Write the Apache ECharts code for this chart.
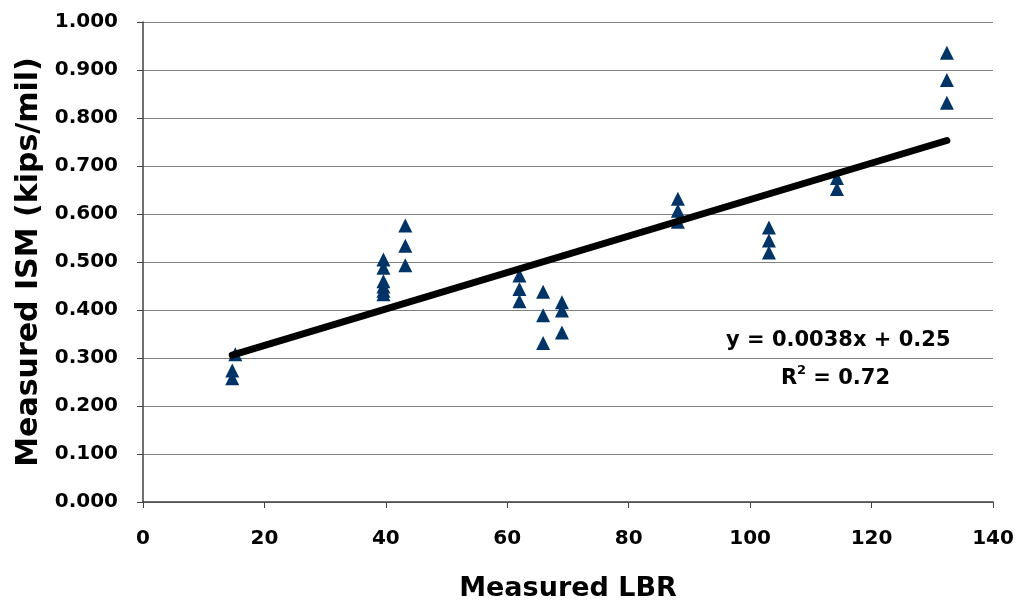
<!DOCTYPE html>
<html>
<head>
<meta charset="utf-8">
<script src="https://cdn.jsdelivr.net/npm/echarts@6/dist/echarts.min.js"></script>
<style>html,body{margin:0;padding:0;background:#fff}#c{width:1021px;height:607px}</style>
</head>
<body>
<div id="c"></div>
<script>
// Measured LBR (x) and Measured ISM (kips/mil) (y)
var lbr = [14.7, 14.7, 15.2,
           39.6, 39.6, 39.6, 39.6, 39.6, 39.6,
           43.2, 43.2, 43.2,
           62.0, 62.0, 62.0,
           65.9, 65.9, 65.9,
           69.0, 69.0, 69.0,
           88.1, 88.1, 88.1,
           103.1, 103.1, 103.1,
           114.3, 114.3,
           132.4, 132.4, 132.4];
var ism = [0.258, 0.274, 0.308,
           0.505, 0.488, 0.460, 0.449, 0.440, 0.433,
           0.576, 0.534, 0.493,
           0.472, 0.444, 0.418,
           0.438, 0.389, 0.331,
           0.416, 0.399, 0.353,
           0.632, 0.607, 0.584,
           0.572, 0.545, 0.520,
           0.675, 0.652,
           0.936, 0.879, 0.832];
var trendSlope = 0.0038;
var trendIntercept = 0.25;
var eqLabel = 'y = 0.0038x + 0.25';
var r2Label = '0.72';
var xTicks = [0, 20, 40, 60, 80, 100, 120, 140];
var yTicks = [0, 0.1, 0.2, 0.3, 0.4, 0.5, 0.6, 0.7, 0.8, 0.9, 1.0];

var pts = lbr.map(function (x, i) { return [x, ism[i]]; });
var xMin = Math.min.apply(null, lbr), xMax = Math.max.apply(null, lbr);
var trend = [[xMin, trendIntercept + trendSlope * xMin], [xMax, trendIntercept + trendSlope * xMax]];

var chart = echarts.init(document.getElementById('c'));
var font = '"DejaVu Sans", sans-serif';
chart.setOption({
  animation: false,
  grid: { left: 143, right: 28, top: 22, bottom: 105 },
  xAxis: {
    type: 'value', min: xTicks[0], max: xTicks[xTicks.length - 1], interval: 20,
    name: 'Measured LBR', nameLocation: 'middle', nameGap: 73,
    nameTextStyle: { fontFamily: font, fontWeight: 'bold', fontSize: 27, color: '#000' },
    axisLine: { lineStyle: { color: '#404040', width: 1.5 } },
    axisTick: { show: true, length: 6, lineStyle: { color: '#404040' } },
    axisLabel: { fontFamily: font, fontWeight: 'bold', fontSize: 20, color: '#000', margin: 27 },
    splitLine: { show: false }
  },
  yAxis: {
    type: 'value', min: yTicks[0], max: yTicks[yTicks.length - 1], interval: 0.1,
    name: 'Measured ISM (kips/mil)', nameLocation: 'middle', nameGap: 98,
    nameTextStyle: { fontFamily: font, fontWeight: 'bold', fontSize: 30, color: '#000' },
    axisLine: { show: true, lineStyle: { color: '#404040', width: 1.5 } },
    axisTick: { show: true, length: 6, lineStyle: { color: '#404040' } },
    axisLabel: { fontFamily: font, fontWeight: 'bold', fontSize: 20, color: '#000', margin: 25,
      formatter: function (v) { return v.toFixed(3); } },
    splitLine: { show: true, lineStyle: { color: '#808080', width: 1 } }
  },
  series: [
    {
      type: 'scatter', data: pts, symbol: 'triangle', symbolSize: [14, 14],
      itemStyle: { color: '#003366', opacity: 1 }, z: 2
    },
    {
      type: 'line', data: trend, symbol: 'none', lineStyle: { color: '#000', width: 7, cap: 'round' }, z: 3
    }
  ],
  graphic: [
    {
      type: 'text', left: 726, top: 330, z: 10,
      style: { text: eqLabel, font: 'bold 21px ' + font, fill: '#000' }
    },
    {
      type: 'text', left: 781, top: 368, z: 10,
      style: { text: 'R', font: 'bold 21px ' + font, fill: '#000' }
    },
    {
      type: 'text', left: 797, top: 364, z: 10,
      style: { text: '2', font: 'bold 13px ' + font, fill: '#000' }
    },
    {
      type: 'text', left: 806, top: 368, z: 10,
      style: { text: ' = ' + r2Label, font: 'bold 21px ' + font, fill: '#000' }
    }
  ]
});
</script>
</body>
</html>
